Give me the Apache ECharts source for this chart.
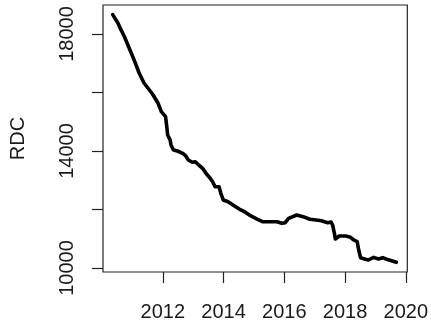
<!DOCTYPE html>
<html>
<head>
<meta charset="utf-8">
<script src="https://cdn.jsdelivr.net/npm/echarts@6/dist/echarts.min.js"></script>
<style>
  html, body { margin: 0; padding: 0; background: #fff; }
  #chart { width: 431px; height: 327px; }
</style>
</head>
<body>
<div id="chart"></div>
<script>
// Time (decimal years) and RDC values along the series
const years = [
  2010.35, 2010.52, 2010.62, 2010.73, 2010.89, 2011.05, 2011.22, 2011.38, 2011.59, 2011.68,
  2011.84, 2011.95, 2012.09, 2012.13, 2012.16, 2012.24, 2012.27, 2012.35, 2012.48, 2012.65,
  2012.75, 2012.84, 2012.97, 2013.07, 2013.18, 2013.31, 2013.42, 2013.56, 2013.64, 2013.72,
  2013.85, 2013.91, 2013.99, 2014.15, 2014.31, 2014.53, 2014.69, 2014.90, 2015.12, 2015.28,
  2015.55, 2015.76, 2015.92, 2016.03, 2016.14, 2016.41, 2016.62, 2016.84, 2017.05, 2017.22,
  2017.32, 2017.43, 2017.54, 2017.59, 2017.65, 2017.68, 2017.81, 2018.02, 2018.18, 2018.29,
  2018.40, 2018.45, 2018.51, 2018.67, 2018.77, 2018.94, 2019.10, 2019.24, 2019.37, 2019.53,
  2019.69
];
const rdc = [
  18661, 18377, 18148, 17922, 17522, 17122, 16667, 16325, 16042, 15915,
  15641, 15344, 15173, 14831, 14547, 14376, 14205, 14034, 14000, 13922,
  13840, 13693, 13614, 13634, 13521, 13409, 13238, 13067, 12950, 12779,
  12779, 12553, 12325, 12267, 12154, 12007, 11925, 11778, 11665, 11583,
  11583, 11583, 11528, 11550, 11699, 11812, 11754, 11665, 11641, 11617,
  11583, 11550, 11573, 11470, 11186, 10991, 11094, 11094, 11049, 10957,
  10900, 10615, 10353, 10298, 10273, 10364, 10308, 10353, 10298, 10250,
  10195
];

// Axis ticks and labelled values
const xTicks = [2012, 2014, 2016, 2018, 2020];
const yTicks = [10000, 12000, 14000, 16000, 18000];
const yLabels = [10000, 14000, 18000];

const points = years.map((t, i) => [t, rdc[i]]);

const textColor = '#1a1a1a';
const font = 'Liberation Sans, Arial, sans-serif';

const chart = echarts.init(document.getElementById('chart'), null, { renderer: 'canvas' });
chart.setOption({
  animation: false,
  backgroundColor: '#fff',
  grid: {
    left: 98, right: 22, top: 5, bottom: 55,
    show: true, borderColor: '#222', borderWidth: 1.2, backgroundColor: 'transparent'
  },
  xAxis: {
    type: 'value',
    min: 2010.03, max: 2020.05,
    axisLine: { show: false },
    splitLine: { show: false },
    axisTick: { show: true, inside: false, length: 11, customValues: xTicks,
      lineStyle: { color: '#222', width: 1.2 } },
    axisLabel: { customValues: xTicks, margin: 30, color: textColor,
      fontFamily: font, fontSize: 20, formatter: v => String(v) }
  },
  yAxis: {
    type: 'value',
    min: 9863, max: 18991,
    name: 'RDC',
    nameLocation: 'middle',
    nameGap: 75,
    nameRotate: 90,
    nameTextStyle: { color: textColor, fontFamily: font, fontSize: 20 },
    axisLine: { show: false },
    splitLine: { show: false },
    axisTick: { show: true, inside: false, length: 11, customValues: yTicks,
      lineStyle: { color: '#222', width: 1.2 } },
    axisLabel: { customValues: yLabels, rotate: 90, margin: 26, color: textColor,
      fontFamily: font, fontSize: 20, formatter: v => String(v) }
  },
  series: [{
    type: 'line',
    data: points,
    showSymbol: false,
    smooth: false,
    lineStyle: { color: '#000', width: 3.6, join: 'round', cap: 'round' }
  }]
});
</script>
</body>
</html>
